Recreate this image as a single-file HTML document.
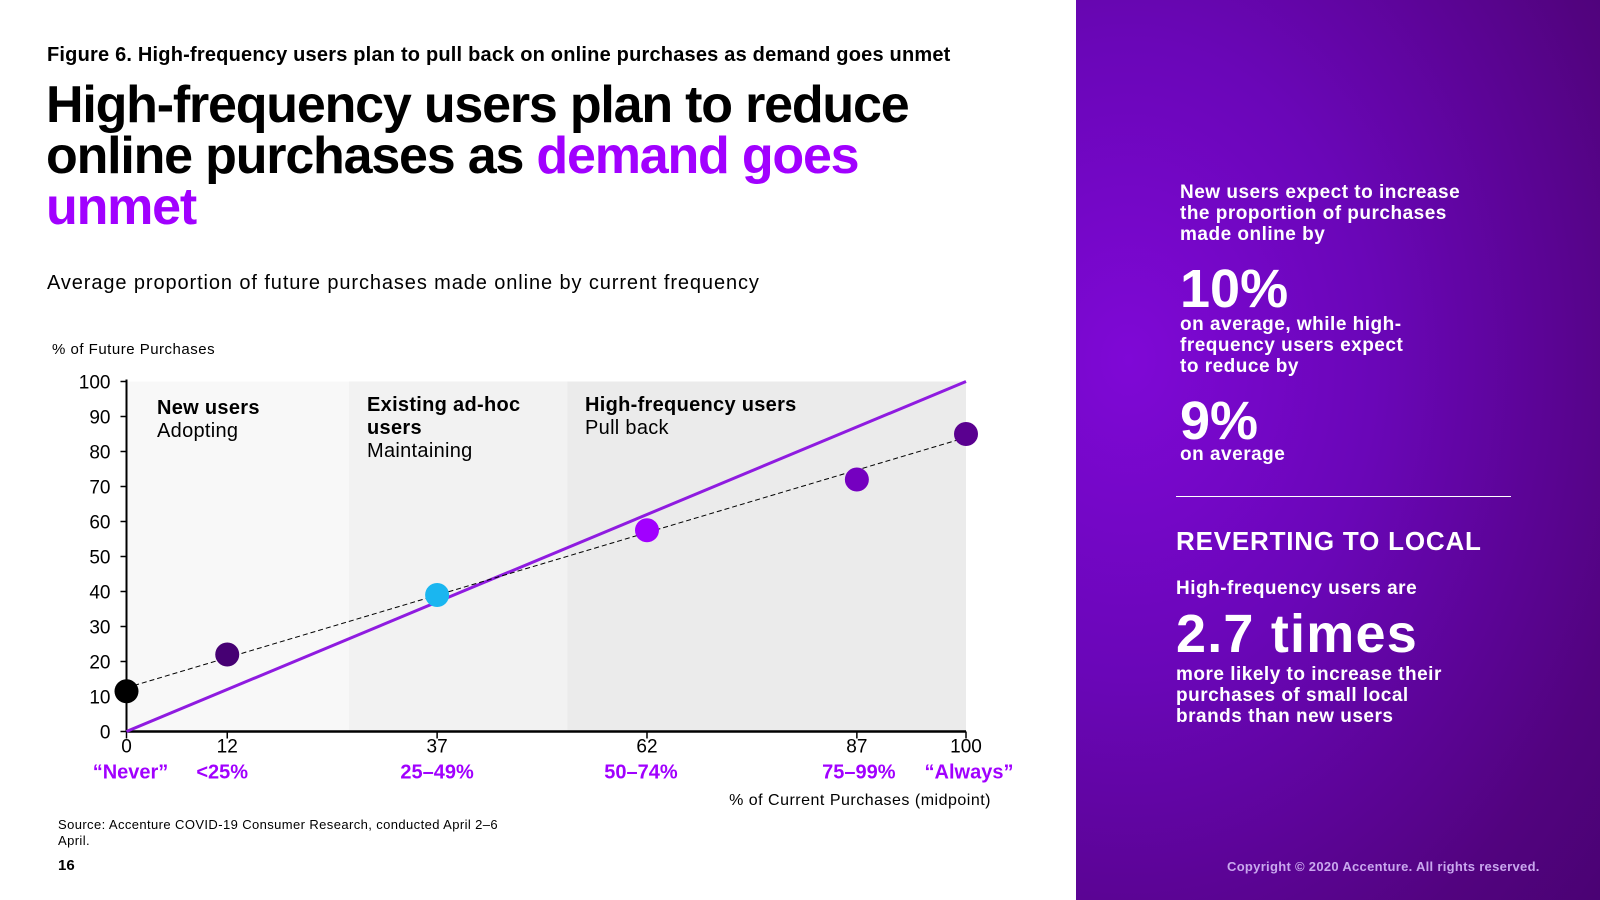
<!DOCTYPE html>
<html><head><meta charset="utf-8"><style>
*{margin:0;padding:0;box-sizing:border-box}
body{width:1600px;height:900px;position:relative;background:#fff;font-family:"Liberation Sans",sans-serif;overflow:hidden}
.abs{position:absolute;white-space:nowrap}
#panel{position:absolute;left:1076px;top:0;width:524px;height:900px;background:radial-gradient(ellipse 700px 900px at 10% 40%,#7f08d6 0%,#6a06b8 35%,#52037f 75%,#45026c 100%);color:#fff}
#panel .t{position:absolute;left:104px;font-weight:bold;white-space:nowrap;letter-spacing:0.5px}
</style></head><body>
<div class="abs" style="left:47px;top:44px;font-size:20px;font-weight:bold;letter-spacing:0.2px">Figure 6. High-frequency users plan to pull back on online purchases as demand goes unmet</div>
<div class="abs" style="left:46px;top:80px;font-size:52px;font-weight:bold;line-height:51px;letter-spacing:-1.2px">High-frequency users plan to reduce<br>online purchases as <span style="color:#a100ff">demand goes</span><br><span style="color:#a100ff">unmet</span></div>
<div class="abs" style="left:47px;top:272px;font-size:20px;letter-spacing:0.9px">Average proportion of future purchases made online by current frequency</div>
<div class="abs" style="left:52px;top:341px;font-size:15px;letter-spacing:0.5px">% of Future Purchases</div>
<svg id="chart" style="position:absolute;left:0;top:0" width="1076" height="900" font-family="Liberation Sans, sans-serif"></svg>
<div class="abs" style="left:58px;top:817px;font-size:13px;line-height:16px;letter-spacing:0.4px">Source: Accenture COVID-19 Consumer Research, conducted April 2–6<br>April.</div>
<div class="abs" style="left:58px;top:857px;font-size:15px;font-weight:bold">16</div>
<div id="panel">
<div class="t" style="top:182px;font-size:19px;line-height:21px">New users expect to increase<br>the proportion of purchases<br>made online by</div>
<div class="t" style="top:258px;font-size:54px;letter-spacing:0px">10%</div>
<div class="t" style="top:314px;font-size:19px;line-height:21px">on average, while high-<br>frequency users expect<br>to reduce by</div>
<div class="t" style="top:390px;font-size:54px;letter-spacing:0px">9%</div>
<div class="t" style="top:444px;font-size:19px">on average</div>
<div style="position:absolute;left:100px;top:496px;width:335px;height:1px;background:#fff"></div>
<div class="t" style="left:100px;top:526px;font-size:26px;letter-spacing:0.8px">REVERTING TO LOCAL</div>
<div class="t" style="left:100px;top:578px;font-size:19px">High-frequency users are</div>
<div class="t" style="left:100px;top:603px;font-size:54px;letter-spacing:1.2px">2.7 times</div>
<div class="t" style="left:100px;top:664px;font-size:19px;line-height:21px">more likely to increase their<br>purchases of small local<br>brands than new users</div>
<div class="t" style="left:151px;top:859px;font-size:13px;color:#c9a8ee;letter-spacing:0.3px">Copyright © 2020 Accenture. All rights reserved.</div>
</div>
<script>
const xCats=[0,12,37,62,87,100];
const yVals=[11.5,22,39,57.5,72,85];
const rangeLabels=["“Never”","<25%","25–49%","50–74%","75–99%","“Always”"];
const pointColors=["#000000","#460073","#1ab6f0","#a100ff","#7500c0","#5a0090"];
const yTicks=[0,10,20,30,40,50,60,70,80,90,100];
const trendEnds=[12.5,84];
const bandBounds=[0,26.5,52.5,100];
const bandNames=[["New users","Adopting"],["Existing ad-hoc","users","Maintaining"],["High-frequency users","Pull back"]];
const bandFills=["#f8f8f8","#f2f2f2","#ebebeb"];
const NS="http://www.w3.org/2000/svg";
const svg=document.getElementById('chart');
const X0=126.5,X1=966,Y0=731.5,Y1=381.5;
const sx=v=>X0+(X1-X0)*v/100, sy=v=>Y0-(Y0-Y1)*v/100;
function mk(t,a,txt){const e=document.createElementNS(NS,t);for(const k in a)e.setAttribute(k,a[k]);if(txt!==undefined)e.textContent=txt;svg.appendChild(e);return e;}
bandFills.forEach((f,i)=>{
 const r=mk('rect',{x:sx(bandBounds[i]),y:Y1,width:sx(bandBounds[i+1])-sx(bandBounds[i]),height:Y0-Y1,fill:f});
 
 
});
const bl=[[157,414,[1,0]],[367,411,[1,1,0]],[585,411,[1,0]]];
bandNames.forEach((n,i)=>{
 n.forEach((s,j)=>{
  const t=mk('text',{x:bl[i][0],y:bl[i][1]+j*23,'font-size':20,'font-weight':bl[i][2][j]?'bold':'normal',fill:'#000','letter-spacing':0.3},s);
  
  
 });
});
mk('line',{x1:X0,y1:Y1-2,x2:X0,y2:Y0,stroke:'#000','stroke-width':2});
mk('line',{x1:X0,y1:Y0,x2:X1,y2:Y0,stroke:'#000','stroke-width':2.5});
yTicks.forEach(v=>{
 mk('line',{x1:X0-6,y1:sy(v),x2:X0,y2:sy(v),stroke:'#000','stroke-width':1.5});
 const t=mk('text',{x:X0-16,y:sy(v)+7,'font-size':19,'text-anchor':'end'},v);
 
 
});
const off=[4,-5,0,-6,2,3];
xCats.forEach((v,i)=>{
 mk('line',{x1:sx(v),y1:Y0,x2:sx(v),y2:Y0+7,stroke:'#000','stroke-width':1.5});
 const t=mk('text',{x:sx(v),y:Y0+21,'font-size':19,'text-anchor':'middle'},v);
 
 
 const r=mk('text',{x:sx(v)+off[i],y:Y0+47,'font-size':20,'font-weight':'bold','fill':'#a100ff','text-anchor':'middle'},rangeLabels[i]);
 
 
});
const xt=mk('text',{x:991,y:805,'font-size':16,'text-anchor':'end','letter-spacing':0.5},'% of Current Purchases (midpoint)');


const ref=mk('line',{x1:sx(0),y1:sy(0),x2:sx(100),y2:sy(100),stroke:'#8f1be0','stroke-width':3});


const tr=mk('line',{x1:sx(0),y1:sy(trendEnds[0]),x2:sx(100),y2:sy(trendEnds[1]),stroke:'#000','stroke-width':1,'stroke-dasharray':'5,3'});


xCats.forEach((v,i)=>{
 const c=mk('circle',{cx:sx(v),cy:sy(yVals[i]),r:12,fill:pointColors[i]});
 
 
});
</script>
</body></html>
